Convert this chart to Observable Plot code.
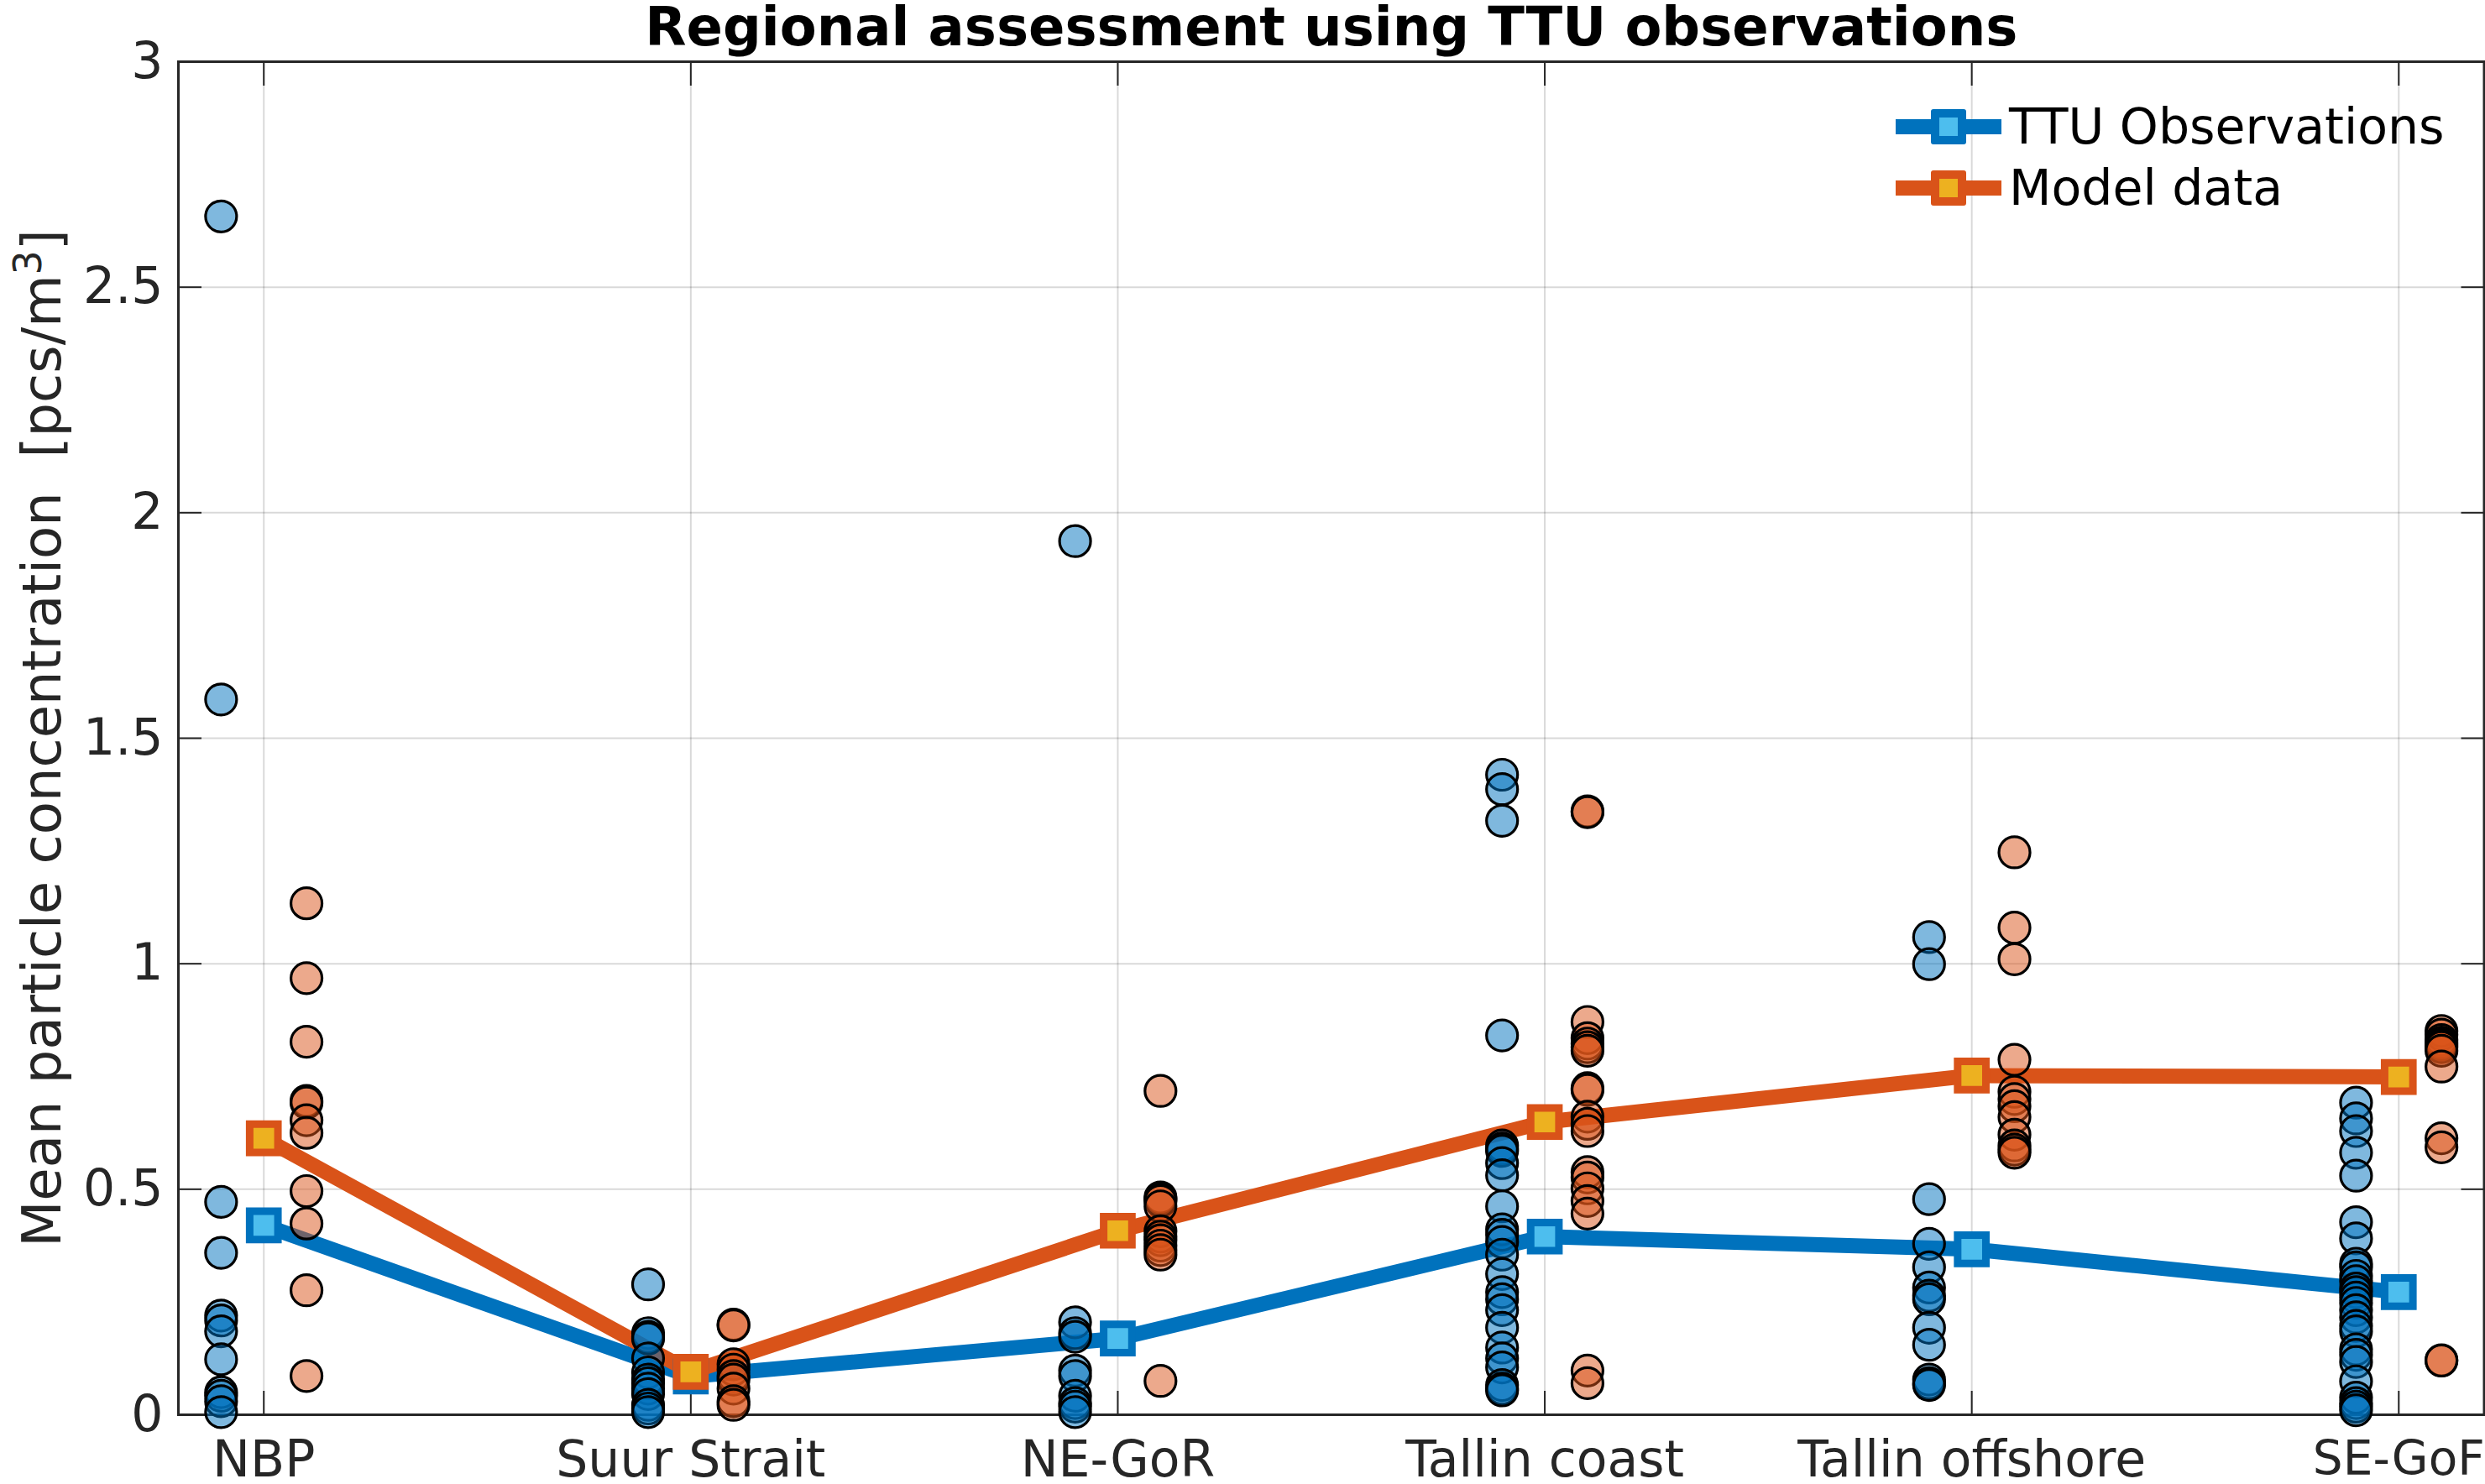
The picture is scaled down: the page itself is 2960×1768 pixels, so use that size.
<!DOCTYPE html>
<html>
<head>
<meta charset="utf-8">
<script src="https://cdn.jsdelivr.net/npm/d3@7"></script>
<script src="https://cdn.jsdelivr.net/npm/@observablehq/plot@0.6"></script>
<style>
html,body{margin:0;padding:0;background:#fff;width:2960px;height:1768px;overflow:hidden;font-family:"DejaVu Sans",sans-serif;}
#wrap{position:relative;width:2960px;height:1768px;}
.row{position:absolute;left:2258px;height:0;}
.row .ln{position:absolute;left:0;top:-9px;width:126px;height:18px;}
.row .sq{position:absolute;left:42px;top:-21px;width:22px;height:22px;border-style:solid;border-width:10px;border-radius:3px;}
.row .tx{position:absolute;left:135px;top:-36px;font-size:58.5px;line-height:72px;color:#000;white-space:nowrap;}
</style>
</head>
<body>
<div id="wrap"></div>
<script>
const regions = ["NBP","Suur Strait","NE-GoR","Tallin coast","Tallin offshore","SE-GoF"];
const regionTicks = [1,2,3,4,5,6];
const yTicks = [0,0.5,1,1.5,2,2.5,3];
const seriesNames = ["TTU Observations","Model data"];
const obsMean = [0.42,0.085,0.169,0.395,0.367,0.272];
const modelMean = [0.613,0.095,0.408,0.649,0.752,0.749];

const obsNBP = [2.657,1.586,0.472,0.359,0.22,0.209,0.185,0.123,0.05,0.042,0.03,0.006];
const obsSuur = [0.289,0.181,0.173,0.169,0.125,0.094,0.078,0.07,0.058,0.046,0.022,0.014,0.006];
const obsNE = [1.937,0.205,0.181,0.173,0.098,0.086,0.042,0.026,0.018,0.006];
const obsCoast = [1.419,1.387,1.317,0.841,0.597,0.59,0.585,0.558,0.531,0.462,0.411,0.399,0.383,0.355,0.312,0.272,0.256,0.232,0.193,0.149,0.125,0.105,0.066,0.058,0.054];
const obsOffshore = [1.059,0.999,0.478,0.379,0.327,0.282,0.264,0.256,0.193,0.155,0.078,0.07,0.066];
const obsSE = [0.692,0.657,0.629,0.581,0.53,0.427,0.391,0.335,0.327,0.308,0.296,0.28,0.272,0.26,0.248,0.232,0.216,0.197,0.185,0.145,0.133,0.117,0.074,0.038,0.026,0.018,0.01];

const modelNBP = [1.134,0.968,0.827,0.696,0.692,0.653,0.625,0.496,0.424,0.276,0.086];
const modelSuur = [0.2,0.198,0.112,0.1,0.086,0.078,0.058,0.03,0.022];
const modelNE = [0.718,0.482,0.478,0.474,0.462,0.407,0.395,0.387,0.375,0.365,0.355,0.075];
const modelCoast = [1.338,1.336,0.871,0.835,0.823,0.815,0.807,0.724,0.72,0.661,0.645,0.629,0.538,0.526,0.502,0.474,0.446,0.098,0.07];
const modelOffshore = [1.247,1.08,1.01,0.787,0.716,0.7,0.684,0.66,0.621,0.597,0.588,0.581];
const modelSE = [0.851,0.843,0.831,0.825,0.82,0.815,0.807,0.772,0.613,0.593,0.121,0.12];

const obsGroups = [obsNBP,obsSuur,obsNE,obsCoast,obsOffshore,obsSE];
const modelGroups = [modelNBP,modelSuur,modelNE,modelCoast,modelOffshore,modelSE];
const offset = 0.1;

const points = (groups, dx) => groups.flatMap((g,i)=>g.map(v=>({x:regionTicks[i]+dx,y:v})));
const means = (vals) => vals.map((v,i)=>({x:regionTicks[i],y:v}));

const C = {obs:"#0072BD",obsF:"#4DBEEE",mod:"#D95319",modF:"#EDB120",axis:"#262626"};
const sqr = 19, lw = 18;

const chart = Plot.plot({
  width:2960, height:1768,
  marginLeft:212, marginRight:1.5, marginTop:73, marginBottom:83,
  x:{type:"linear",domain:[0.8,6.2]},
  y:{type:"linear",domain:[0,3]},
  style:{fontFamily:"'DejaVu Sans',sans-serif",fontSize:"60px",background:"#fff",overflow:"visible",color:C.axis},
  marks:[
    Plot.gridX(regionTicks,{stroke:"#000",strokeOpacity:0.15,strokeWidth:2}),
    Plot.gridY(yTicks,{stroke:"#000",strokeOpacity:0.15,strokeWidth:2}),
    Plot.frame({stroke:C.axis,strokeWidth:3}),
    Plot.axisX({anchor:"bottom",ticks:regionTicks,tickSize:-28,strokeWidth:2,fill:"none",label:null}),
    Plot.axisX({anchor:"top",ticks:regionTicks,tickSize:-28,strokeWidth:2,fill:"none",label:null}),
    Plot.axisY({anchor:"left",ticks:yTicks,tickSize:-28,strokeWidth:2,fill:"none",label:null}),
    Plot.axisY({anchor:"right",ticks:yTicks,tickSize:-28,strokeWidth:2,fill:"none",label:null}),
    Plot.axisX({anchor:"bottom",ticks:regionTicks,tickSize:0,tickPadding:31,stroke:"none",label:null,tickFormat:d=>regions[d-1]}),
    Plot.axisY({anchor:"left",ticks:yTicks,tickSize:0,tickPadding:18,stroke:"none",tickFormat:d=>String(d),
      label:"Mean particle concentration  [pcs/m3]",labelAnchor:"center",labelArrow:"none",labelOffset:186}),
    Plot.line(means(obsMean),{x:"x",y:"y",stroke:C.obs,strokeWidth:lw,strokeLinejoin:"miter"}),
    Plot.line(means(modelMean),{x:"x",y:"y",stroke:C.mod,strokeWidth:lw,strokeLinejoin:"miter"}),
    Plot.dot(means(obsMean),{x:"x",y:"y",symbol:"square",r:sqr,fill:C.obsF,stroke:C.obs,strokeWidth:9}),
    Plot.dot(means(modelMean),{x:"x",y:"y",symbol:"square",r:sqr,fill:C.modF,stroke:C.mod,strokeWidth:9}),
    Plot.dot(points(obsGroups,-offset),{x:"x",y:"y",r:18.5,fill:C.obs,fillOpacity:0.5,stroke:"#000",strokeWidth:3.2,sort:null}),
    Plot.dot(points(modelGroups,offset),{x:"x",y:"y",r:18.5,fill:C.mod,fillOpacity:0.5,stroke:"#000",strokeWidth:3.2,sort:null}),
    Plot.text(["Regional assessment using TTU observations"],{frameAnchor:"top",lineAnchor:"bottom",dy:-20,fontSize:64,fontWeight:"bold",fill:"#000"})
  ]
});
d3.select(chart).selectAll("text").filter(function(){return this.textContent.startsWith("Mean particle");})
  .each(function(){
    const t=d3.select(this), s=this.querySelector("tspan")?d3.select(this.querySelector("tspan")):t;
    s.text(null);
    s.append("tspan").text("Mean particle concentration  [pcs/m");
    s.append("tspan").attr("dy","-0.5em").attr("font-size","0.72em").text("3");
    s.append("tspan").attr("dy","0.36em").text("]");
    t.attr("font-size",64).style("font-size","64px");
  });
d3.select(chart).selectAll("text").filter(function(){return this.textContent===regions[5];})
  .style("font-size","56.5px");
const wrap=document.getElementById("wrap");
wrap.appendChild(chart);
[[seriesNames[0],151,C.obs,C.obsF],[seriesNames[1],224,C.mod,C.modF]].forEach(([name,y,c,f])=>{
  const r=document.createElement("div");r.className="row";r.style.top=y+"px";
  r.innerHTML=`<div class="ln" style="background:${c}"></div><div class="sq" style="border-color:${c};background:${f}"></div><div class="tx">${name}</div>`;
  wrap.appendChild(r);
});
</script>
</body>
</html>
